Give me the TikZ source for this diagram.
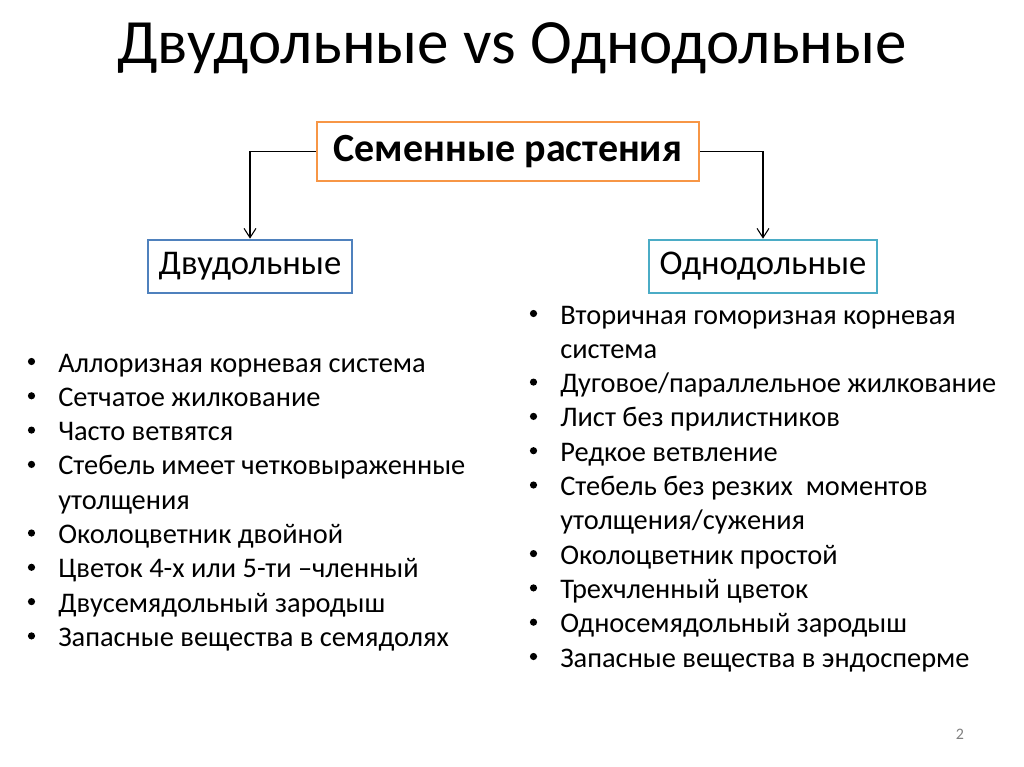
\documentclass[tikz,border=0pt]{standalone}
\usepackage{fontspec}
\setmainfont{Carlito}
\usetikzlibrary{arrows.meta}
\definecolor{boxorange}{HTML}{F79646}
\definecolor{boxblue}{HTML}{4F81BD}
\definecolor{boxteal}{HTML}{4BACC6}
\newcommand{\bitem}[4]{%
  \node[bulletdot] (#1b) at (#2-26.5,#3-10.5) {};
  \node[linetext] (#1) at (#2,#3) {#4};}
\newcommand{\bcont}[4]{%
  \node[linetext] (#1) at (#2,#3) {#4};}
\begin{document}
\begin{tikzpicture}[x=0.75pt,y=-0.75pt,
  linetext/.style={anchor=base west,inner sep=0pt,font=\fontsize{21.3pt}{25pt}\selectfont},
  bulletdot/.style={circle,fill=black,inner sep=0pt,minimum size=5.4pt},
  catbox/.style={draw,line width=2pt,inner sep=0pt,fill=white,font=\fontsize{26pt}{30pt}\selectfont},
  conn/.style={line width=0.8pt,-{Straight Barb[length=7pt,width=9pt]}}]
\fill[white] (0,0) rectangle (1024,767);
\useasboundingbox (0,0) rectangle (1024,767);
\node[anchor=base,inner sep=0pt,font=\fontsize{47.3pt}{52pt}\selectfont] (title) at (512,64) {Двудольные vs Однодольные};
\node[catbox,draw=boxorange,minimum width=286.5pt,minimum height=44.25pt,font=\fontsize{30pt}{34pt}\selectfont\bfseries] (seed) at (508,151.5) {Семенные растения};
\node[catbox,draw=boxblue,minimum width=153pt,minimum height=39.75pt] (dicot) at (250,266.5) {Двудольные};
\node[catbox,draw=boxteal,minimum width=171pt,minimum height=39.75pt] (monocot) at (763,266.5) {Однодольные};
\draw[conn] (seed.west) -| (dicot.north);
\draw[conn] (seed.east) -| (monocot.north);
% left list
\bitem{la}{58}{372}{Аллоризная корневая система}
\bitem{lb}{58}{406.3}{Сетчатое жилкование}
\bitem{lc}{58}{440.6}{Часто ветвятся}
\bitem{ld}{58}{474.9}{Стебель имеет четковыраженные}
\bcont{ldd}{58}{509.2}{утолщения}
\bitem{le}{58}{543.5}{Околоцветник двойной}
\bitem{lf}{58}{577.8}{Цветок 4-х или 5-ти –членный}
\bitem{lg}{58}{612.1}{Двусемядольный зародыш}
\bitem{lh}{58}{646.4}{Запасные вещества в семядолях}
% right list
\bitem{ra}{560}{324}{Вторичная гоморизная корневая}
\bcont{raa}{560}{358.3}{система}
\bitem{rb}{560}{392.6}{Дуговое/параллельное жилкование}
\bitem{rc}{560}{426.9}{Лист без прилистников}
\bitem{rd}{560}{461.2}{Редкое ветвление}
\bitem{re}{560}{495.5}{Стебель без резких\ \ моментов}
\bcont{ree}{560}{529.8}{утолщения/сужения}
\bitem{rf}{560}{564.1}{Околоцветник простой}
\bitem{rg}{560}{598.4}{Трехчленный цветок}
\bitem{rh}{560}{632.7}{Односемядольный зародыш}
\bitem{ri}{560}{667}{Запасные вещества в эндосперме}
\node[anchor=base,inner sep=0pt,text=gray,font=\fontsize{12pt}{14pt}\selectfont] (pnum) at (960,739) {2};
\end{tikzpicture}
\end{document}
